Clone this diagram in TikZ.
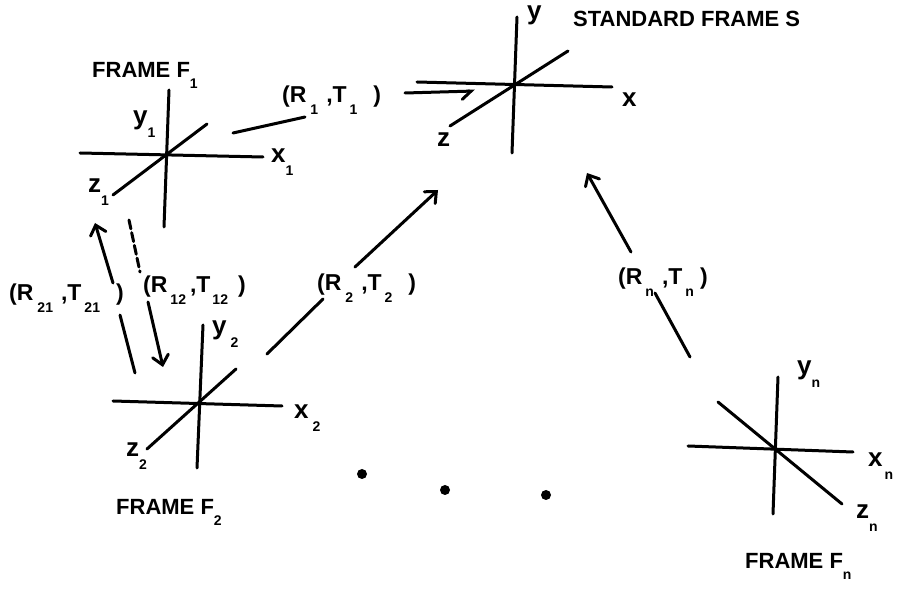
\documentclass[tikz,border=0pt]{standalone}
\usepackage{fontspec}
\setmainfont{Liberation Sans}
\usetikzlibrary{arrows.meta}
\newcommand\lowsub[1]{\raisebox{-0.5em}{\fontsize{14}{14}\selectfont #1}}
\newcommand\rtlabel[2]{(R\hspace{4pt}\lowsub{#1}\hspace{8pt},T\hspace{3pt}\lowsub{#2}\hspace{16pt})}
\begin{document}
\begin{tikzpicture}[x=1pt,y=-1pt,
  axis/.style={line width=3pt,line cap=round},
  conn/.style={line width=3pt,line cap=round},
  arr/.style={conn,-{Straight Barb[length=9pt,width=16pt,line cap=round]}},
  harp/.style={conn,-{Straight Barb[harpoon,swap,length=9pt,width=16pt,line cap=round]}},
  txt/.style={anchor=west,inner sep=0pt,font=\fontsize{22}{26}\selectfont\bfseries},
  lab/.style={anchor=west,inner sep=0pt,font=\fontsize{23}{26}\selectfont\bfseries},
  ltr/.style={anchor=west,inner sep=0pt,font=\fontsize{26}{28}\selectfont\bfseries},
  dotn/.style={circle,fill=black,inner sep=0pt,minimum size=10pt}]
\useasboundingbox (0,0) rectangle (898,593);
% ---------- Frame F1 ----------
\coordinate (f1hl) at (80,153);  \coordinate (f1hr) at (263,157);
\coordinate (f1vt) at (169,90);  \coordinate (f1vb) at (164,227);
\coordinate (f1dl) at (113,195); \coordinate (f1dr) at (207,124);
\draw[axis] (f1hl) -- (f1hr);
\draw[axis] (f1vt) -- (f1vb);
\draw[axis] (f1dl) -- (f1dr);
\node[txt] (t1) at (92,75) {FRAME F\lowsub{1}};
\node[ltr] (y1) at (133,124) {y\lowsub{1}};
\node[ltr] (x1) at (271,162) {x\lowsub{1}};
\node[ltr] (z1) at (88,192) {z\lowsub{1}};
% ---------- Standard frame S ----------
\coordinate (shl) at (417,82);  \coordinate (shr) at (612,87);
\coordinate (svt) at (517,17);  \coordinate (svb) at (512,153);
\coordinate (sdl) at (450,126); \coordinate (sdr) at (568,51);
\draw[axis] (shl) -- (shr);
\draw[axis] (svt) -- (svb);
\draw[axis] (sdl) -- (sdr);
\node[txt] (ts) at (573,19) {STANDARD FRAME S};
\node[ltr] (ys) at (527,15) {y};
\node[ltr] (xs) at (622,100) {x};
\node[ltr] (zs) at (437,140) {z};
% ---------- Frame F2 ----------
\coordinate (f2hl) at (113,401); \coordinate (f2hr) at (282,406);
\coordinate (f2vt) at (203,325); \coordinate (f2vb) at (197,468);
\coordinate (f2dl) at (147,449); \coordinate (f2dr) at (236,369);
\draw[axis] (f2hl) -- (f2hr);
\draw[axis] (f2vt) -- (f2vb);
\draw[axis] (f2dl) -- (f2dr);
\node[txt] (t2) at (116,512) {FRAME F\lowsub{2}};
\node[ltr] (y2) at (212,334) {y\hspace{4pt}\lowsub{2}};
\node[ltr] (x2) at (294,418) {x\hspace{4pt}\lowsub{2}};
\node[ltr] (z2) at (126,456) {z\lowsub{2}};
% ---------- Frame Fn ----------
\coordinate (fnhl) at (688,446); \coordinate (fnhr) at (853,452);
\coordinate (fnvt) at (778,377); \coordinate (fnvb) at (773,514);
\coordinate (fndl) at (718,402); \coordinate (fndr) at (842,504);
\draw[axis] (fnhl) -- (fnhr);
\draw[axis] (fnvt) -- (fnvb);
\draw[axis] (fndl) -- (fndr);
\node[txt] (tn) at (745,566) {FRAME F\lowsub{n}};
\node[ltr] (yn) at (797,374) {y\lowsub{n}};
\node[ltr] (xn) at (868,466) {x\hspace{2pt}\lowsub{n}};
\node[ltr] (zn) at (856,518) {z\lowsub{n}};
% ---------- transformation labels ----------
\node[lab] (l1)  at (282,100) {\rtlabel{1}{1}};
\node[lab] (l2)  at (317,288) {\rtlabel{2}{2}};
\node[lab] (l21) at (9,298)   {\rtlabel{21}{21}};
\node[lab] (l12) at (143,290) {(R\hspace{3pt}\lowsub{12}\hspace{4pt},T\hspace{2pt}\lowsub{12}\hspace{10pt})};
\node[lab] (ln)  at (618,282) {(R\hspace{3pt}\lowsub{n}\hspace{8pt},T\hspace{3pt}\lowsub{n}\hspace{6pt})};
% ---------- connectors ----------
% F1 -> S
\coordinate (a1s) at (233,133); \coordinate (a1e) at (305,117);
\coordinate (b1s) at (405,93);  \coordinate (b1e) at (475,91);
\draw[conn] (a1s) -- (a1e);
\draw[harp] (b1s) -- (b1e);
% F2 -> S
\coordinate (a2s) at (267,354); \coordinate (a2e) at (323,299);
\coordinate (b2s) at (355,267); \coordinate (b2e) at (438,190);
\draw[conn] (a2s) -- (a2e);
\draw[arr] (b2s) -- (b2e);
% Fn -> S
\coordinate (ans) at (690,357); \coordinate (ane) at (655,293);
\coordinate (bns) at (631,252); \coordinate (bne) at (587,173);
\draw[conn] (ans) -- (ane);
\draw[arr] (bns) -- (bne);
% F2 -> F1  (R21,T21)
\coordinate (a21s) at (135,373); \coordinate (a21e) at (120,315);
\coordinate (b21s) at (113,283); \coordinate (b21e) at (95,223);
\draw[conn] (a21s) -- (a21e);
\draw[arr] (b21s) -- (b21e);
% F1 -> F2  (R12,T12)
\coordinate (a12s) at (129,220); \coordinate (a12e) at (140,272);
\coordinate (b12s) at (148,302); \coordinate (b12e) at (163,367);
\draw[conn,dash pattern=on 9pt off 4pt] (a12s) -- (a12e);
\draw[arr] (b12s) -- (b12e);
% ---------- dots ----------
\node[dotn] (d1) at (362,474) {};
\node[dotn] (d2) at (445,490) {};
\node[dotn] (d3) at (546,495) {};
\end{tikzpicture}
\end{document}
